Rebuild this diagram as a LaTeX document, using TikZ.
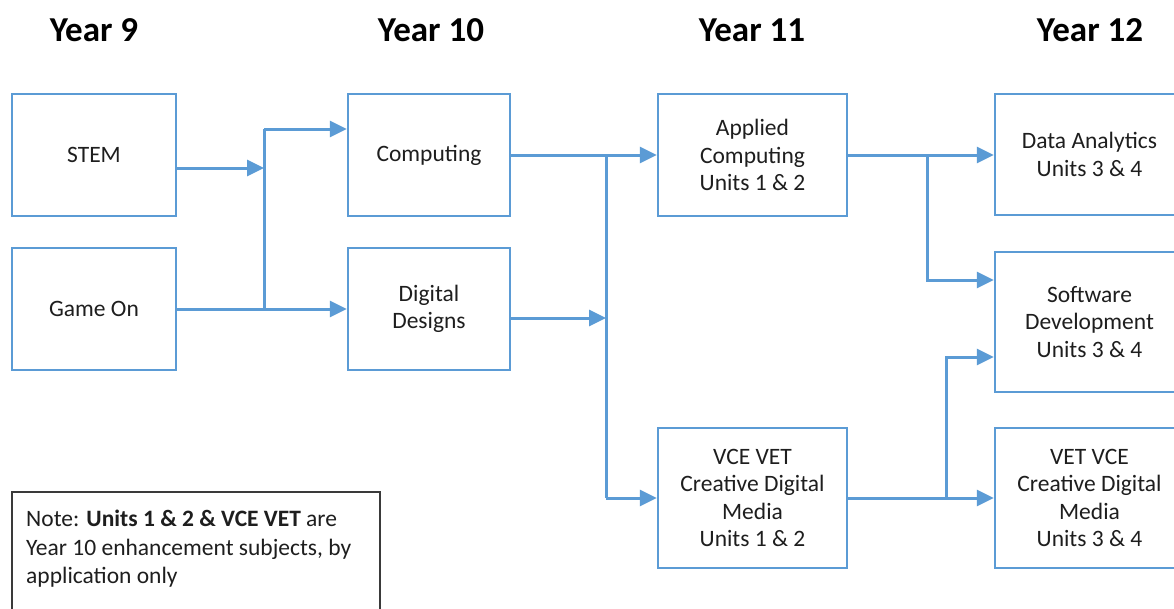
\documentclass[tikz,border=0pt]{standalone}
\usepackage{fontspec}
\setmainfont{Carlito}
\usetikzlibrary{arrows.meta}
\definecolor{lineblue}{HTML}{5B9BD5}
\definecolor{notegray}{HTML}{3A3A3A}
\definecolor{txt}{HTML}{1E1E1E}
\tikzset{
  box/.style={draw=lineblue, line width=2.5pt, rectangle, align=center, text=txt,
    font=\fontsize{23.5}{27.5}\selectfont, inner sep=0pt},
  conn/.style={draw=lineblue, line width=3pt},
  arr/.style={conn, -{Triangle[length=17pt,width=16pt]}},
  header/.style={font=\fontsize{35}{40}\selectfont\bfseries, text=black, anchor=base, inner sep=0pt},
  notetext/.style={font=\fontsize{23.5}{28}\selectfont, text=txt, anchor=base west, inner sep=0pt}
}
\begin{document}
\begin{tikzpicture}[x=1pt,y=-1pt]
\useasboundingbox (0,0) rectangle (1174,608);
\clip (0,0) rectangle (1174,608);
\fill[white] (0,0) rectangle (1174,608);

% headers
\node[header] (h9) at (94,41) {Year 9};
\node[header] (h10) at (431,41) {Year 10};
\node[header] (h11) at (752,41) {Year 11};
\node[header] (h12) at (1090,41) {Year 12};

% boxes
\node[box, minimum width=164pt, minimum height=122pt] (stem) at (94,155) {STEM};
\node[box, minimum width=164pt, minimum height=122pt] (game) at (94,309) {Game On};
\node[box, minimum width=162pt, minimum height=122pt] (comp) at (429,155) {Computing};
\node[box, minimum width=162pt, minimum height=122pt] (dig) at (429,309) {Digital\\Designs};
\node[box, minimum width=189pt, minimum height=122pt] (app) at (752.5,155) {Applied\\Computing\\Units 1 \& 2};
\node[box, minimum width=189pt, minimum height=140pt] (vce) at (752.5,498) {VCE VET\\Creative Digital\\Media\\Units 1 \& 2};
\node[box, minimum width=189pt, minimum height=121pt] (da) at (1089.5,154.5) {Data Analytics\\Units 3 \& 4};
\node[box, minimum width=189pt, minimum height=140pt] (sd) at (1089.5,322) {Software\\Development\\Units 3 \& 4};
\node[box, minimum width=189pt, minimum height=140pt] (vv) at (1089.5,498) {VET VCE\\Creative Digital\\Media\\Units 3 \& 4};

% note
\node[draw=notegray, line width=2.5pt, rectangle, minimum width=368pt, minimum height=140pt, inner sep=0pt] (note) at (196,562) {};
\node[notetext] (n1) at (26,526) {Note: \textbf{Units 1 \& 2 \& VCE VET} are};
\node[notetext] (n2) at (26,555) {Year 10 enhancement subjects, by};
\node[notetext] (n3) at (26,583.5) {application only};

% junctions
\coordinate (ja) at (264,129);
\coordinate (jb) at (264,309);
\coordinate (jc) at (606,155);
\coordinate (jd) at (927,155);
\coordinate (je) at (946,498);

% Year 9 -> Year 10
\draw[arr] ([yshift=-13pt]stem.east) coordinate (s1) -- (s1 -| ja);
\draw[conn] (ja) -- (jb);
\draw[arr] (ja) -- (ja -| comp.west);
\draw[arr] (game.east) -- (game.east -| dig.west);

% Year 10 -> Year 11
\draw[arr] (comp.east) -- (comp.east -| app.west);
\draw[conn] (jc) -- (jc |- vce.west);
\draw[arr] (jc |- vce.west) -- (vce.west);
\draw[arr] ([yshift=-9pt]dig.east) coordinate (d1) -- (d1 -| jc);

% Year 11 -> Year 12
\draw[arr] (app.east) -- (app.east -| da.west);
\draw[arr] (jd) |- ([yshift=42pt]sd.west);
\draw[arr] (vce.east) -- (vce.east -| vv.west);
\draw[arr] (je) |- ([yshift=-35pt]sd.west);
\end{tikzpicture}
\end{document}
